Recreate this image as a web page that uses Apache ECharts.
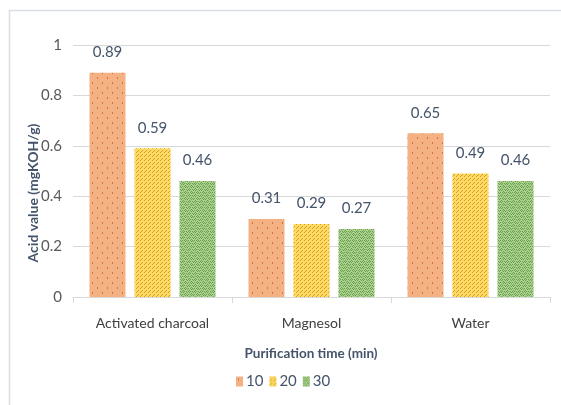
<!DOCTYPE html>
<html>
<head>
<meta charset="utf-8">
<script src="https://cdn.jsdelivr.net/npm/echarts@6/dist/echarts.min.js"></script>
<style>
  html, body { margin: 0; padding: 0; background: #fff; }
  #chart { width: 561px; height: 405px; }
</style>
</head>
<body>
<div id="chart"></div>
<script>
// Acid value of purified samples by purification agent and time
const categories = ['Activated charcoal', 'Magnesol', 'Water'];
const seriesNames = ['10', '20', '30'];
const acid10 = [0.89, 0.31, 0.65];
const acid20 = [0.59, 0.29, 0.49];
const acid30 = [0.46, 0.27, 0.46];
const yTicks = [0, 0.2, 0.4, 0.6, 0.8, 1];

const FONT = "Lato, 'Open Sans', sans-serif";

// Small tiled fills for the bars
function tile(w, h, bg, fg, pts) {
  const c = document.createElement('canvas');
  c.width = w; c.height = h;
  const g = c.getContext('2d');
  g.fillStyle = bg; g.fillRect(0, 0, w, h);
  g.fillStyle = fg;
  pts.forEach(p => g.fillRect(p[0], p[1], p[2] || 1, p[3] || 1));
  return { image: c, repeat: 'repeat' };
}
const orangeFill = tile(10, 10, '#F4B183', '#D9703A', [[2, 2, 1, 2], [7, 7, 1, 2]]);
const yellowFill = tile(4, 4, '#FFD966', '#D4A017', [[0, 0], [2, 2], [1, 3]]);
const greenFill = tile(6, 6, '#A9D18E', '#6E9E4E', [[0, 0], [2, 0], [4, 0], [1, 1], [5, 1], [3, 2], [0, 3], [2, 3], [4, 3], [1, 4], [3, 4], [5, 5]]);
const fills = [orangeFill, yellowFill, greenFill];

const chart = echarts.init(document.getElementById('chart'), null, { renderer: 'canvas' });

function barSeries(name, data, i) {
  return {
    name: name,
    type: 'bar',
    data: data,
    barWidth: 36,
    barGap: '25%',
    itemStyle: { color: fills[i] },
    label: {
      show: true,
      position: 'top',
      distance: 13,
      fontFamily: FONT,
      fontSize: 15,
      color: '#44546A'
    }
  };
}

chart.setOption({
  animation: false,
  textStyle: { fontFamily: FONT },
  grid: { left: 73, right: 11, top: 45, bottom: 108 },
  xAxis: {
    type: 'category',
    data: categories,
    axisLine: { lineStyle: { color: '#D9D9D9', width: 1 } },
    axisTick: { show: true, length: 6, lineStyle: { color: '#D9D9D9' } },
    axisLabel: { interval: 0, fontFamily: FONT, fontSize: 14, color: '#404040', margin: 19 }
  },
  yAxis: {
    type: 'value',
    min: yTicks[0],
    max: yTicks[yTicks.length - 1],
    interval: 0.2,
    axisLine: { show: false },
    axisTick: { show: false },
    splitLine: { lineStyle: { color: '#D9D9D9', width: 1 } },
    axisLabel: { fontFamily: FONT, fontSize: 15, color: '#595959', margin: 11 }
  },
  legend: {
    data: seriesNames.map((n, i) => ({ name: n, itemStyle: { color: fills[i] } })),
    left: 231,
    top: 369,
    itemWidth: 7,
    itemHeight: 10,
    itemGap: 6,
    icon: 'rect',
    textStyle: { fontFamily: FONT, fontSize: 15, color: '#44546A', padding: [0, 0, 0, -2] }
  },
  graphic: [
    {
      type: 'rect',
      shape: { x: 9.5, y: 10.5, width: 700, height: 600 },
      style: { fill: 'none', stroke: '#D9DEE6', lineWidth: 1.5 },
      silent: true
    },
    {
      type: 'text',
      x: 33,
      y: 193,
      rotation: Math.PI / 2,
      style: {
        text: 'Acid value (mgKOH/g)',
        fontFamily: FONT,
        fontWeight: 'bold',
        fontSize: 14,
        fill: '#44546A',
        textAlign: 'center',
        textVerticalAlign: 'middle'
      }
    },
    {
      type: 'text',
      x: 311,
      y: 354,
      style: {
        text: 'Purification time (min)',
        fontFamily: FONT,
        fontWeight: 'bold',
        fontSize: 13.5,
        fill: '#44546A',
        textAlign: 'center',
        textVerticalAlign: 'middle'
      }
    }
  ],
  series: [
    barSeries(seriesNames[0], acid10, 0),
    barSeries(seriesNames[1], acid20, 1),
    barSeries(seriesNames[2], acid30, 2)
  ]
});
</script>
</body>
</html>
